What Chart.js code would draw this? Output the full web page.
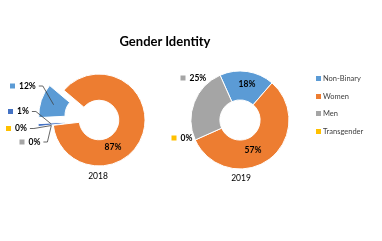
<!DOCTYPE html>
<html>
<head>
<meta charset="utf-8">
<script src="https://cdn.jsdelivr.net/npm/chart.js@4"></script>
<style>
  html, body { margin: 0; padding: 0; background: #fff; }
  #wrap { position: relative; width: 382px; height: 241px; overflow: hidden; font-family: Lato, "Open Sans", sans-serif; }
  canvas { position: absolute; left: 0; top: 0; }
  .title { position: absolute; left: 0; width: 330px; top: 33px; text-align: center; font-weight: bold; font-size: 13px; color: #000; }
  .year { position: absolute; width: 60px; text-align: center; font-size: 8.5px; color: #000; }
  .legend { position: absolute; left: 316px; top: 74px; font-size: 7.5px; color: #404040; }
  .legend div { height: 17.6px; line-height: 10px; white-space: nowrap; }
  .legend span { display: inline-block; width: 5px; height: 5px; margin-right: 2px; vertical-align: 0px; }
</style>
</head>
<body>
<div id="wrap">
  <canvas id="chart2018" width="382" height="241"></canvas>
  <canvas id="chart2019" width="382" height="241"></canvas>
  <div class="title">Gender Identity</div>
  <div class="year" style="left:68px; top:171px;">2018</div>
  <div class="year" style="left:211px; top:173px;">2019</div>
  <div class="legend" id="legend"></div>
</div>
<script>
// categories in data order (Excel colour order)
const categories = ["Non-Binary", "Women", "Men", "Transgender", "Other"];
const colors = ["#5B9BD5", "#ED7D31", "#A5A5A5", "#FFC000", "#4472C4"];
const legendItems = ["Non-Binary", "Women", "Men", "Transgender"];

const values2018 = [12, 87, 0, 0, 1];
const values2019 = [18, 57, 25, 0];

/* ==============================
   EXPLODED SLICES
   (move whole slice out, keeps its width - chart.js offset shrinks thin slices)
============================== */
const explodeSlices = {
  id: "explodeSlices",
  afterUpdate(chart, args, opts) {
    const amounts = opts.amounts || [];
    chart.getDatasetMeta(0).data.forEach((arc, i) => {
      const d = amounts[i] || 0;
      if (!d) return;
      const mid = (arc.startAngle + arc.endAngle) / 2;
      arc.x += Math.cos(mid) * d;
      arc.y += Math.sin(mid) * d;
    });
  }
};

/* ==============================
   DATA LABELS
============================== */
const sliceLabels = {
  id: "sliceLabels",
  afterDatasetsDraw(chart, args, opts) {
    const ctx = chart.ctx;
    const area = chart.chartArea;
    const cx = (area.left + area.right) / 2;
    const cy = (area.top + area.bottom) / 2;
    const meta = chart.getDatasetMeta(0);
    const values = chart.data.datasets[0].data;
    const bg = chart.data.datasets[0].backgroundColor;
    const exploded = (chart.options.plugins.explodeSlices || {}).amounts || [];

    ctx.save();
    ctx.font = "bold 8.5px Lato";
    ctx.textBaseline = "middle";

    (opts.spots || []).forEach((spot, i) => {
      if (!spot) return;
      const arc = meta.data[i];
      const text = values[i] + "%";
      const x = cx + spot.dx;
      const y = cy + spot.dy;

      if (!spot.key) {
        ctx.textAlign = "center";
        ctx.fillStyle = "#000";
        ctx.fillText(text, x, y);
        return;
      }

      // small legend key in front of the value
      ctx.fillStyle = bg[i];
      ctx.fillRect(x - 2.5, y - 2.5, 5, 5);
      ctx.fillStyle = "#000";
      ctx.textAlign = "left";
      const tx = x + 6.5;
      ctx.fillText(text, tx, y);

      if (spot.leader) {
        const start = tx + ctx.measureText(text).width + 3;
        const mid = (arc.startAngle + arc.endAngle) / 2;
        const r = exploded[i] ? (arc.innerRadius + arc.outerRadius) / 2 : arc.outerRadius + 2;
        ctx.beginPath();
        ctx.strokeStyle = "#404040";
        ctx.lineWidth = 0.8;
        ctx.moveTo(start, y);
        ctx.lineTo(start + 4, y);
        ctx.lineTo(arc.x + Math.cos(mid) * r, arc.y + Math.sin(mid) * r);
        ctx.stroke();
      }
    });
    ctx.restore();
  }
};

function makeDoughnut(id, values, cfg) {
  const canvas = document.getElementById(id);
  return new Chart(canvas.getContext("2d"), {
    type: "doughnut",
    data: {
      labels: categories.slice(0, values.length),
      datasets: [{
        data: values,
        backgroundColor: colors.slice(0, values.length),
        borderColor: "#fff",
        borderWidth: 1
      }]
    },
    options: {
      responsive: false,
      animation: false,
      events: [],
      rotation: cfg.rotation,
      radius: cfg.radius,
      cutout: cfg.cutout,
      layout: { padding: cfg.padding },
      plugins: {
        legend: { display: false },
        tooltip: { enabled: false },
        explodeSlices: { amounts: cfg.explode },
        sliceLabels: { spots: cfg.spots }
      }
    },
    plugins: [explodeSlices, sliceLabels]
  });
}

makeDoughnut("chart2018", values2018, {
  rotation: 267,
  radius: 46,
  cutout: "43%",
  explode: [15, 0, 0, 0, 15],
  padding: { left: 0, right: 184, top: 0, bottom: 1 },
  spots: [
    { dx: -86.5, dy: -34, key: true, leader: true },
    { dx: 14, dy: 27 },
    { dx: -77, dy: 22, key: true, leader: true },
    { dx: -90.5, dy: 8.5, key: true, leader: true },
    { dx: -88.5, dy: -8.5, key: true, leader: true }
  ]
});

makeDoughnut("chart2019", values2019, {
  rotation: -24,
  radius: 49,
  cutout: "41%",
  explode: [],
  padding: { left: 98, right: 0, top: 0, bottom: 1 },
  spots: [
    { dx: 7, dy: -36 },
    { dx: 13, dy: 30 },
    { dx: -57, dy: -42, key: true },
    { dx: -66, dy: 18, key: true }
  ]
});

/* ==============================
   LEGEND
============================== */
const legend = document.getElementById("legend");
legendItems.forEach(name => {
  const i = categories.indexOf(name);
  const row = document.createElement("div");
  row.innerHTML = `<span style="background:${colors[i]}"></span>${name}`;
  legend.appendChild(row);
});
</script>
</body>
</html>
